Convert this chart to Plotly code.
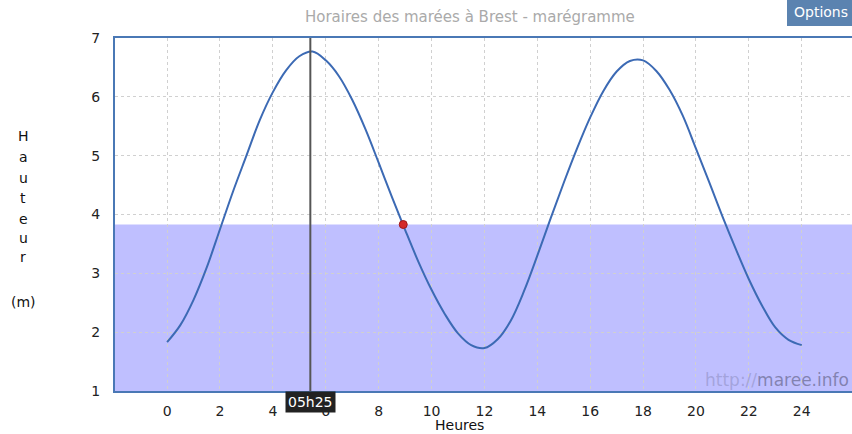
import plotly.graph_objects as go

# Data (half-hourly heights, metres)
hours = [0, 0.5, 1, 1.5, 2, 2.5, 3, 3.5, 4, 4.5, 5, 5.5, 6, 6.5, 7, 7.5, 8, 8.5, 9, 9.5,
         10, 10.5, 11, 11.5, 12, 12.5, 13, 13.5, 14, 14.5, 15, 15.5, 16, 16.5, 17, 17.5,
         18, 18.5, 19, 19.5, 20, 20.5, 21, 21.5, 22, 22.5, 23, 23.5, 24]
heights = [1.83, 2.12, 2.55, 3.10, 3.75, 4.40, 5.00, 5.60, 6.08, 6.45, 6.69, 6.77, 6.62,
           6.35, 5.95, 5.45, 4.88, 4.30, 3.74, 3.20, 2.72, 2.31, 1.98, 1.78, 1.73, 1.88,
           2.20, 2.70, 3.30, 3.93, 4.54, 5.12, 5.65, 6.10, 6.43, 6.61, 6.62, 6.44, 6.12,
           5.68, 5.12, 4.55, 3.97, 3.42, 2.90, 2.45, 2.08, 1.87, 1.78]
now_hour = [8.93]
now_height = [3.83]
marker_hour = 5 + 25 / 60
marker_label = "05h25"
x_ticks = list(range(0, 25, 2))
y_ticks = list(range(1, 8))
title_text = "Horaires des marées à Brest - marégramme"
y_title_letters = ["H", "a", "u", "t", "e", "u", "r"]

W, H = 852, 434
L, R, T, B = 115, 0, 38, 43
pw, ph = W - L - R, H - T - B


def px_x(px):
    return (px - L) / pw


def px_y(py):
    return (H - B - py) / ph


font = "DejaVu Sans"
fig = go.Figure()

fig.add_trace(go.Scatter(
    x=hours, y=heights, mode="lines",
    line=dict(color="#3c6ab4", width=2, shape="spline", smoothing=1.0),
    hoverinfo="skip", showlegend=False,
))
fig.add_trace(go.Scatter(
    x=now_hour, y=now_height, mode="markers",
    marker=dict(color="#d42a2a", size=8, line=dict(color="#a01818", width=1)),
    showlegend=False,
))

# water level fill
fig.add_shape(type="rect", xref="paper", yref="y", x0=0, x1=1, y0=1, y1=now_height[0],
              fillcolor="#bfbfff", line=dict(width=0), layer="below")
# vertical time line
fig.add_shape(type="line", xref="x", yref="paper", x0=marker_hour, x1=marker_hour, y0=0, y1=1,
              line=dict(color="#555555", width=2))

annotations = []
annotations.append(dict(
    text=title_text, x=px_x(470), y=px_y(17), xref="paper", yref="paper",
    showarrow=False, font=dict(family=font, size=15, color="#aaaaaa"),
    xanchor="center", yanchor="middle"))
annotations.append(dict(
    text=marker_label, x=marker_hour, y=px_y(402), xref="x", yref="paper",
    showarrow=False, font=dict(family=font, size=14, color="#ffffff"),
    bgcolor="#222222", borderpad=2, xanchor="center", yanchor="middle"))
annotations.append(dict(
    text='<span style="color:rgba(140,140,190,0.55)">http://</span>'
         '<span style="color:rgba(110,110,150,0.75)">maree.info</span>',
    x=px_x(851), y=px_y(380), xref="paper", yref="paper",
    showarrow=False, font=dict(family=font, size=17),
    xanchor="right", yanchor="middle"))
annotations.append(dict(
    text="Heures", x=px_x(459), y=px_y(425), xref="paper", yref="paper",
    showarrow=False, font=dict(family=font, size=14, color="#111111"),
    xanchor="center", yanchor="middle"))
ys = [136, 157, 178, 198, 219, 238, 257]
for ch, yy in zip(y_title_letters, ys):
    annotations.append(dict(
        text=ch, x=px_x(23), y=px_y(yy), xref="paper", yref="paper",
        showarrow=False, font=dict(family=font, size=14, color="#111111"),
        xanchor="center", yanchor="middle"))
annotations.append(dict(
    text="(m)", x=px_x(23), y=px_y(302), xref="paper", yref="paper",
    showarrow=False, font=dict(family=font, size=14, color="#111111"),
    xanchor="center", yanchor="middle"))
# Options button
fig.add_shape(type="rect", xref="paper", yref="paper", x0=px_x(787), x1=px_x(860),
              y0=px_y(26), y1=px_y(-2), fillcolor="#5b83b0", line=dict(width=0), layer="above")
annotations.append(dict(
    text="Options", x=px_x(792), y=px_y(12), xref="paper", yref="paper",
    showarrow=False, font=dict(family=font, size=14, color="#ffffff"),
    xanchor="left", yanchor="middle"))

fig.update_layout(
    width=W, height=H,
    margin=dict(l=L, r=R, t=T, b=B),
    paper_bgcolor="white", plot_bgcolor="white",
    annotations=annotations,
    xaxis=dict(range=[-1.97, 25.9], tickvals=x_ticks, ticktext=[str(v) for v in x_ticks],
               showgrid=True, gridcolor="#d0d0d0", griddash="dot", gridwidth=1,
               showline=True, linecolor="#4a78b5", linewidth=2, mirror=True,
               zeroline=False, ticks="", ticklabelstandoff=6,
               tickfont=dict(family=font, size=14, color="#222222")),
    yaxis=dict(range=[1, 7], tickvals=y_ticks,
               showgrid=True, gridcolor="#d0d0d0", griddash="dot", gridwidth=1,
               showline=True, linecolor="#4a78b5", linewidth=2, mirror=False,
               zeroline=False, ticks="", ticklabelstandoff=10,
               tickfont=dict(family=font, size=14, color="#222222")),
    hovermode=False,
)

fig.write_html("out.html", config={"displayModeBar": False},
               post_script="document.body.style.margin='0';document.body.style.overflow='hidden';")
